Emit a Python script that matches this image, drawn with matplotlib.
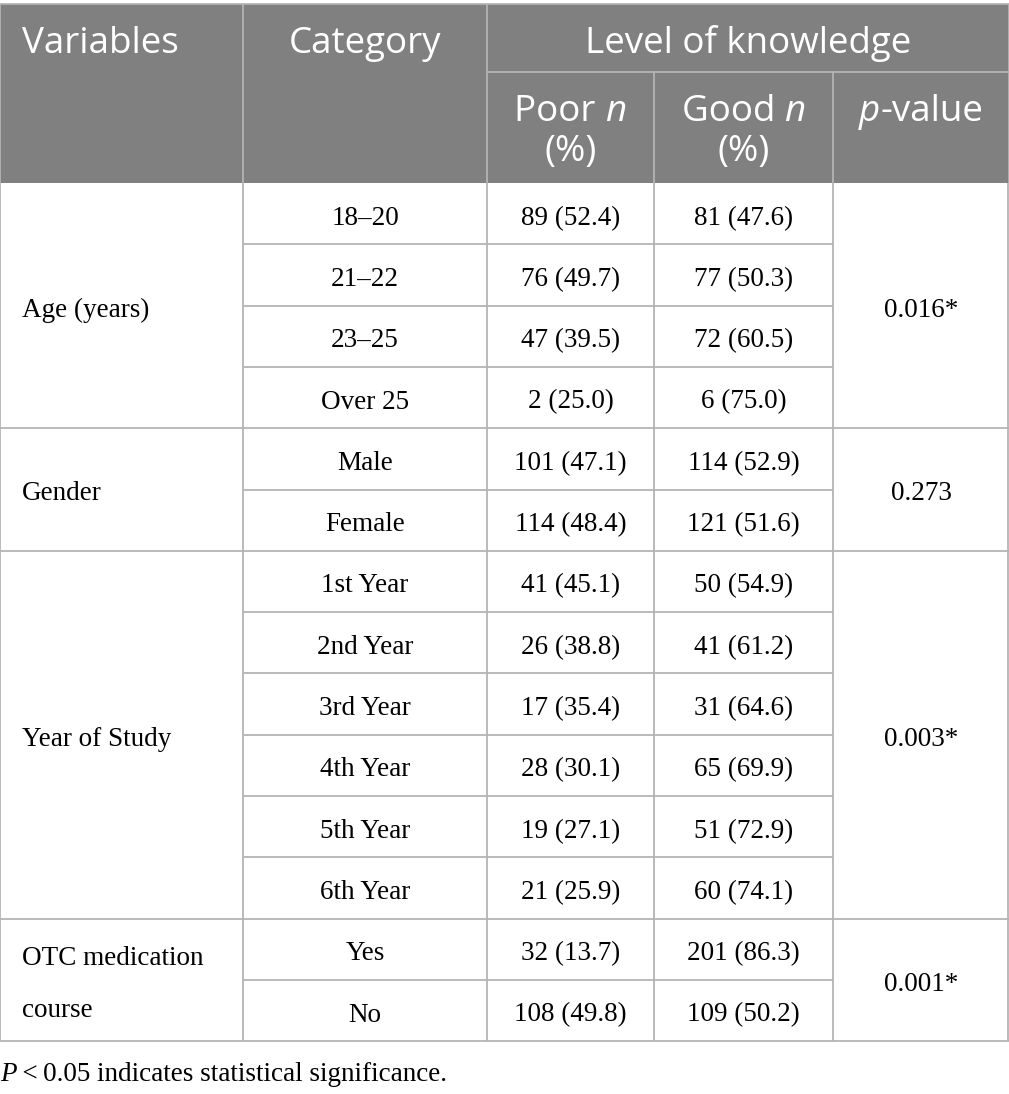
import matplotlib
matplotlib.use("Agg")
import matplotlib.pyplot as plt
from matplotlib.patches import Rectangle

# table content
variables = ["Age (years)", "Gender", "Year of Study", "OTC medication\ncourse"]
categories = [
    ["18–20", "21–22", "23–25", "Over 25"],
    ["Male", "Female"],
    ["1st Year", "2nd Year", "3rd Year", "4th Year", "5th Year", "6th Year"],
    ["Yes", "No"],
]
poor = [
    ["89 (52.4)", "76 (49.7)", "47 (39.5)", "2 (25.0)"],
    ["101 (47.1)", "114 (48.4)"],
    ["41 (45.1)", "26 (38.8)", "17 (35.4)", "28 (30.1)", "19 (27.1)", "21 (25.9)"],
    ["32 (13.7)", "108 (49.8)"],
]
good = [
    ["81 (47.6)", "77 (50.3)", "72 (60.5)", "6 (75.0)"],
    ["114 (52.9)", "121 (51.6)"],
    ["50 (54.9)", "41 (61.2)", "31 (64.6)", "65 (69.9)", "51 (72.9)", "60 (74.1)"],
    ["201 (86.3)", "109 (50.2)"],
]
p_values = ["0.016*", "0.273", "0.003*", "0.001*"]
footnote = "indicates statistical significance."

W, H = 1009, 1094
col_x = [0, 243, 487, 654, 833, 1008]
top, mid_head, head_bot = 4, 72, 183
row_h = 61.3

HEAD_BG = "#7f807f"
LINE = "#b4b4b4"
HEAD_FONT = "Open Sans"
BODY_FONT = "Liberation Serif"
HS, BS = 26.5, 19.5
BASE_OFF = 11  # baseline offset below row centre

fig = plt.figure(figsize=(W / 100, H / 100), dpi=100)
ax = fig.add_axes([0, 0, 1, 1])
ax.set_xlim(0, W)
ax.set_ylim(H, 0)
ax.axis("off")
fig.canvas.draw()
renderer = fig.canvas.get_renderer()


def line(x0, y0, x1, y1):
    ax.plot([x0, x1], [y0, y1], color=LINE, lw=1.3, solid_capstyle="butt")


def pieces(x, y, parts, family, size, color, align="center"):
    # draw text segments (with mixed styles) one after another
    widths = []
    objs = []
    for s, style in parts:
        t = ax.text(0, y, s, family=family, fontsize=size, style=style,
                    color=color, va="baseline", ha="left")
        bb = t.get_window_extent(renderer)
        widths.append(bb.width)
        objs.append(t)
    total = sum(widths)
    cur = x - total / 2 if align == "center" else x
    for t, w in zip(objs, widths):
        t.set_x(cur)
        cur += w


def htext(x, y, s, ha="center"):
    ax.text(x, y, s, family=HEAD_FONT, fontsize=HS, color="white", va="baseline", ha=ha)


def btext(x, y, s, ha="center"):
    ax.text(x, y, s, family=BODY_FONT, fontsize=BS, color="black", va="baseline", ha=ha)


# header
ax.add_patch(Rectangle((0, top), W, head_bot - top, color=HEAD_BG, lw=0))
line(col_x[2], mid_head, W, mid_head)
for x in col_x[1:3]:
    line(x, top, x, head_bot)
for x in col_x[3:5]:
    line(x, mid_head, x, head_bot)

htext(22, 53, "Variables", ha="left")
htext((col_x[1] + col_x[2]) / 2, 53, "Category")
htext((col_x[2] + W) / 2, 53, "Level of knowledge")
for c, word in [(2, "Poor "), (3, "Good ")]:
    cx = (col_x[c] + col_x[c + 1]) / 2
    pieces(cx, 121, [(word, "normal"), ("n", "italic")], HEAD_FONT, HS, "white")
    htext(cx, 161, "(%)")
pieces((col_x[4] + W) / 2, 121, [("p", "italic"), ("-value", "normal")], HEAD_FONT, HS, "white")

# body
y = head_bot
line(0, top, W, top)
line(0, top, 0, head_bot)
line(W, top, W, head_bot)
for g in range(len(variables)):
    n = len(categories[g])
    y0 = y
    y1 = y + n * row_h
    for i in range(n):
        yc = y0 + (i + 0.5) * row_h + BASE_OFF
        btext((col_x[1] + col_x[2]) / 2, yc, categories[g][i])
        btext((col_x[2] + col_x[3]) / 2, yc, poor[g][i])
        btext((col_x[3] + col_x[4]) / 2, yc, good[g][i])
        if i > 0:
            line(col_x[1], y0 + i * row_h, col_x[4], y0 + i * row_h)
    gc = (y0 + y1) / 2
    vlines = variables[g].split("\n")
    for k, s in enumerate(vlines):
        btext(22, gc + BASE_OFF + (k - (len(vlines) - 1) / 2) * 52, s, ha="left")
    btext((col_x[4] + W) / 2, gc + BASE_OFF, p_values[g])
    line(0, y1, W, y1)
    for x in col_x:
        line(x, y0, x, y1)
    y = y1

pieces(0, 1081, [("P", "italic"), ("\u2009<\u20090.05 ", "normal"), (footnote, "normal")],
       BODY_FONT, BS, "black", align="left")

fig.savefig("out.png", dpi=100)
